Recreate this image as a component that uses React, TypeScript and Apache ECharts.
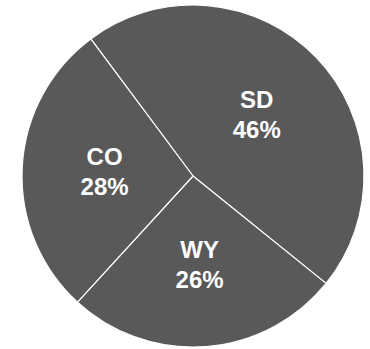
import React, { useEffect, useRef } from "react";
import * as echarts from "echarts";

const categories = ["SD", "WY", "CO"];
const values = [46, 26, 28];

export default function App() {
  const ref = useRef<HTMLDivElement>(null);
  useEffect(() => {
    if (!ref.current) return;
    const chart = echarts.init(ref.current, null, { renderer: "svg" });
    chart.setOption({
      animation: false,
      series: [
        {
          type: "pie",
          center: [193, 176],
          radius: [0, 171],
          startAngle: 126.7,
          clockwise: true,
          data: categories.map((c, i) => ({ name: c, value: values[i] })),
          itemStyle: { color: "#595959", borderColor: "#ffffff", borderWidth: 1.2 },
          label: {
            show: true,
            position: "inside",
            formatter: "{b}\n{c}%",
            color: "#ffffff",
            fontFamily: "Liberation Sans, Arial, sans-serif",
            fontWeight: "bold",
            fontSize: 24,
            lineHeight: 30,
          },
          labelLine: { show: false },
          emphasis: { disabled: true },
        },
      ],
    });
    return () => chart.dispose();
  }, []);
  return (
    <div
      ref={ref}
      style={{ position: "absolute", left: 0, top: 0, width: 370, height: 349, background: "#ffffff" }}
    />
  );
}
